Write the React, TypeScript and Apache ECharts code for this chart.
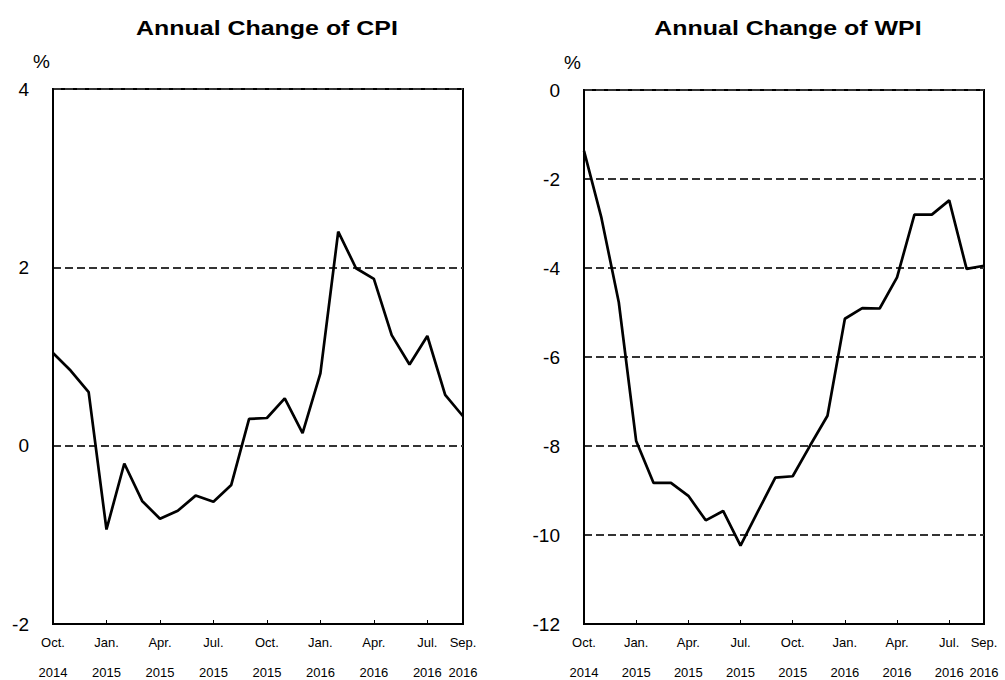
import React, { useEffect, useRef } from "react";
import * as echarts from "echarts";

const months = ["Oct.", "Nov.", "Dec.", "Jan.", "Feb.", "Mar.", "Apr.", "May", "Jun.", "Jul.", "Aug.", "Sep.", "Oct.", "Nov.", "Dec.", "Jan.", "Feb.", "Mar.", "Apr.", "May", "Jun.", "Jul.", "Aug.", "Sep."];
const years = ["2014", "2014", "2014", "2015", "2015", "2015", "2015", "2015", "2015", "2015", "2015", "2015", "2015", "2015", "2015", "2016", "2016", "2016", "2016", "2016", "2016", "2016", "2016", "2016"];
const cpi = [1.04, 0.84, 0.60, -0.94, -0.20, -0.62, -0.82, -0.73, -0.56, -0.63, -0.44, 0.30, 0.31, 0.53, 0.14, 0.81, 2.40, 1.99, 1.87, 1.24, 0.91, 1.23, 0.57, 0.33];
const wpi = [-1.37, -2.87, -4.77, -7.89, -8.83, -8.83, -9.12, -9.67, -9.46, -10.24, -9.47, -8.71, -8.68, -7.99, -7.32, -5.14, -4.90, -4.91, -4.21, -2.80, -2.80, -2.48, -4.02, -3.95];
const titles = ["Annual Change of CPI", "Annual Change of WPI"];
const unit = "%";

const FONT = "Arial, 'Liberation Sans', sans-serif";

export default function App() {
  const ref = useRef<HTMLDivElement>(null);
  useEffect(() => {
    if (!ref.current) return;
    const chart = echarts.init(ref.current, null, { renderer: "svg" });
    const cats = months.map((m, i) => `${m}|${years[i]}`);
    const last = cats.length - 1;
    const xAxisBase = (gridIndex: number) => ({
      type: "category",
      gridIndex,
      data: cats,
      boundaryGap: false,
      axisLine: { show: true, onZero: false, lineStyle: { color: "#000", width: 2 } },
      axisTick: {
        show: true,
        inside: true,
        length: 4,
        interval: (i: number) => i % 3 === 0 && i !== 0,
        lineStyle: { color: "#000", width: 1 },
      },
      axisLabel: {
        interval: (i: number) => i % 3 === 0 || i === last,
        formatter: (v: string) => {
          const [m, y] = v.split("|");
          return `${m}\n\n${y}`;
        },
        fontFamily: FONT,
        fontSize: 13,
        lineHeight: 15,
        color: "#000",
        margin: 11,
      },
      splitLine: { show: false },
    });
    const yAxisBase = (gridIndex: number, min: number, max: number) => ({
      type: "value",
      gridIndex,
      min,
      max,
      interval: 2,
      name: unit,
      nameLocation: "end",
      nameGap: 18,
      nameTextStyle: { fontFamily: FONT, fontSize: 19, color: "#000", align: "right", padding: [0, 3, 0, 0] },
      axisLine: { show: true, onZero: false, lineStyle: { color: "#000", width: 2 } },
      axisTick: { show: false },
      axisLabel: { fontFamily: FONT, fontSize: 19, color: "#000", margin: 24 },
      splitLine: { show: true, lineStyle: { color: "#333", width: 2, type: [8, 4] } },
    });
    chart.setOption({
      animation: false,
      backgroundColor: "#fff",
      grid: [
        { left: 53, right: 542, top: 89, bottom: 52, show: true, borderColor: "#000", borderWidth: 2, backgroundColor: "transparent" },
        { left: 584, right: 21, top: 90, bottom: 52, show: true, borderColor: "#000", borderWidth: 2, backgroundColor: "transparent" },
      ],
      xAxis: [xAxisBase(0), xAxisBase(1)],
      yAxis: [yAxisBase(0, -2, 4), yAxisBase(1, -12, 0)],
      series: [
        { type: "line", xAxisIndex: 0, yAxisIndex: 0, data: cpi, showSymbol: false, symbol: "none", lineStyle: { color: "#000", width: 2.7 } },
        { type: "line", xAxisIndex: 1, yAxisIndex: 1, data: wpi, showSymbol: false, symbol: "none", lineStyle: { color: "#000", width: 2.7 } },
      ],
      graphic: [
        {
          type: "text",
          x: 267,
          y: 28,
          scaleX: 1.28,
          style: { text: titles[0], fontFamily: FONT, fontSize: 19.5, fontWeight: "bold", fill: "#000", align: "center", verticalAlign: "middle" },
        },
        {
          type: "text",
          x: 788,
          y: 28,
          scaleX: 1.28,
          style: { text: titles[1], fontFamily: FONT, fontSize: 19.5, fontWeight: "bold", fill: "#000", align: "center", verticalAlign: "middle" },
        },
      ],
    });
    return () => chart.dispose();
  }, []);
  return (
    <div
      ref={ref}
      style={{ position: "fixed", left: 0, top: 0, width: 1005, height: 680, background: "#fff" }}
    />
  );
}
